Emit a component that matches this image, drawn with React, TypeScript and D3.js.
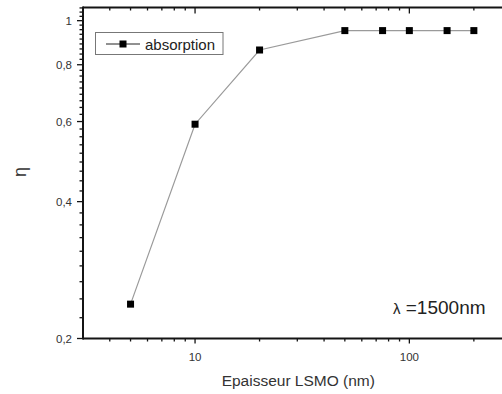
import React from "react";
import * as d3 from "d3";

const thickness = [5, 10, 20, 50, 75, 100, 150, 200];
const absorption = [0.238, 0.592, 0.862, 0.951, 0.951, 0.951, 0.951, 0.951];
const yMajor = [0.2, 0.4, 0.6, 0.8, 1];
const yLabels = ["0,2", "0,4", "0,6", "0,8", "1"];
const xMajor = [10, 100];
const xLabels = ["10", "100"];

const W = 502;
const H = 394;
const FONT = "'Liberation Sans', Arial, sans-serif";

export default function App() {
  const left = 83;
  const top = 7.5;
  const bottom = 338.5;
  const decade = 214.3;
  const x = d3.scaleLog().domain([3, 300]).range([left, left + 2 * decade]);
  const y = d3.scaleLog().domain([0.2, 1.069]).range([bottom, top]);

  const xMinor: number[] = [];
  [1, 10, 100].forEach((d) => {
    for (let k = 2; k <= 9; k++) {
      const v = d * k;
      if (v > 3 && v < 300 && !xMajor.includes(v)) xMinor.push(v);
    }
  });
  const yMinor: number[] = [];
  for (let i = 0; i < 5; i++) {
    for (let k = 1; k <= 8; k++) {
      const v = 0.2 + i * 0.2 + (k * 0.2) / 9;
      if (v < 1.069) yMinor.push(v);
    }
  }

  const line = d3
    .line<number>()
    .x((_, i) => x(thickness[i]))
    .y((d) => y(d));

  const axisColor = "#141414";
  const labelColor = "#333";
  const ms = 7;

  return (
    <svg
      width={W}
      height={H}
      style={{ position: "absolute", left: 0, top: 0, background: "#fff" }}
    >
      <rect x={0} y={0} width={W} height={H} fill="#fff" />
      <path d={line(absorption) || ""} fill="none" stroke="#9a9a9a" strokeWidth={1.2} />
      {absorption.map((v, i) => (
        <rect
          key={i}
          x={x(thickness[i]) - ms / 2}
          y={y(v) - ms / 2}
          width={ms}
          height={ms}
          fill="#000"
        />
      ))}

      <line x1={left} x2={W + 10} y1={top} y2={top} stroke={axisColor} strokeWidth={2} />
      <line x1={left} x2={W + 10} y1={bottom} y2={bottom} stroke={axisColor} strokeWidth={2} />
      <line x1={left} x2={left} y1={top - 1} y2={bottom + 1} stroke={axisColor} strokeWidth={2} />

      {xMajor.map((v) => (
        <g key={"xm" + v}>
          <line x1={x(v)} x2={x(v)} y1={bottom} y2={bottom + 5} stroke={axisColor} strokeWidth={1.3} />
          <line x1={x(v)} x2={x(v)} y1={top} y2={top + 6} stroke={axisColor} strokeWidth={1.3} />
        </g>
      ))}
      {xMinor.map((v) => (
        <g key={"xn" + v}>
          <line x1={x(v)} x2={x(v)} y1={bottom} y2={bottom + 3} stroke={axisColor} strokeWidth={1.3} />
          <line x1={x(v)} x2={x(v)} y1={top} y2={top + 3} stroke={axisColor} strokeWidth={1.3} />
        </g>
      ))}
      {xMajor.map((v, i) => (
        <text
          key={"xl" + v}
          x={x(v)}
          y={361}
          textAnchor="middle"
          fontFamily={FONT}
          fontSize={11.5}
          fill={labelColor}
        >
          {xLabels[i]}
        </text>
      ))}

      {yMajor.map((v, i) => (
        <g key={"ym" + v}>
          <line x1={left - 6} x2={left} y1={y(v)} y2={y(v)} stroke={axisColor} strokeWidth={1.3} />
          <text
            x={72}
            y={y(v)}
            dy="0.35em"
            textAnchor="end"
            fontFamily={FONT}
            fontSize={11.5}
            fill={labelColor}
          >
            {yLabels[i]}
          </text>
        </g>
      ))}
      {yMinor.map((v) => (
        <line key={"yn" + v} x1={left - 3.5} x2={left} y1={y(v)} y2={y(v)} stroke={axisColor} strokeWidth={1.3} />
      ))}

      <text x={298.3} y={386} textAnchor="middle" fontFamily={FONT} fontSize={15.5} fill={labelColor}>
        Epaisseur LSMO (nm)
      </text>
      <text
        transform={`translate(26,172) rotate(-90)`}
        textAnchor="middle"
        fontFamily={FONT}
        fontSize={18}
        fill={labelColor}
      >
        η
      </text>

      <rect x={95.5} y={32.5} width={127.5} height={22} fill="#fff" stroke="#777" strokeWidth={1} />
      <line x1={106} x2={140} y1={44} y2={44} stroke="#222" strokeWidth={1} />
      <rect x={123 - 3.5} y={44 - 3.5} width={7} height={7} fill="#000" />
      <text x={145} y={49.5} fontFamily={FONT} fontSize={15} fill="#222">
        absorption
      </text>

      <text x={393} y={314} fontFamily={FONT} fontSize={19} fill="#222">
        <tspan fontSize={15}>λ</tspan> =1500nm
      </text>
    </svg>
  );
}
